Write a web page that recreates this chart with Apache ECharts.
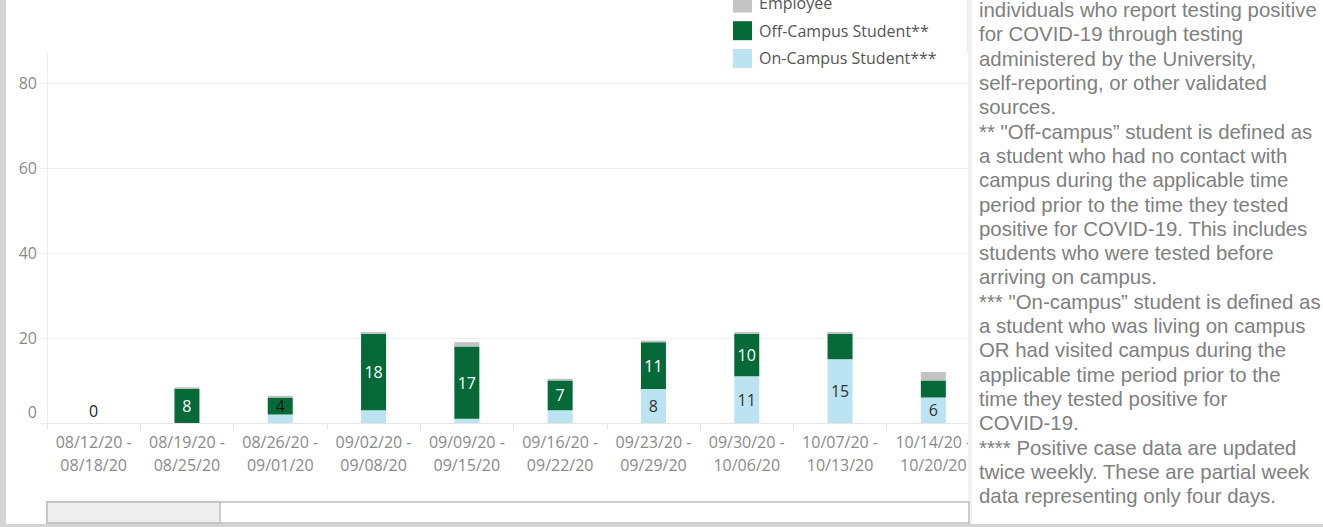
<!DOCTYPE html>
<html>
<head>
<meta charset="utf-8">
<script src="https://cdn.jsdelivr.net/npm/echarts@6/dist/echarts.min.js"></script>
<style>
html,body{margin:0;padding:0;background:#fff;}
#c{width:1323px;height:527px;}
</style>
</head>
<body>
<div id="c"></div>
<script>
// ---- data ----
const categories = [
  '08/12/20 -\n08/18/20', '08/19/20 -\n08/25/20', '08/26/20 -\n09/01/20',
  '09/02/20 -\n09/08/20', '09/09/20 -\n09/15/20', '09/16/20 -\n09/22/20',
  '09/23/20 -\n09/29/20', '09/30/20 -\n10/06/20', '10/07/20 -\n10/13/20',
  '10/14/20 -\n10/20/20'
];
const onCampus  = [0, 0, 2, 3, 1, 3, 8, 11, 15, 6];
const offCampus = [0, 8, 4, 18, 17, 7, 11, 10, 6, 4];
const employee  = [0, 0.4, 0.4, 0.4, 1, 0.4, 0.4, 0.4, 0.4, 2];
const onCampusLabelShown  = [true, false, false, false, false, false, true, true, true, true];
const offCampusLabelShown = [false, true, true, true, true, true, true, true, false, false];
const yTickValues = [0, 20, 40, 60, 80];
const seriesNames = ['Employee', 'Off-Campus Student**', 'On-Campus Student***'];
const footnoteLines = [
  'individuals who report testing positive',
  'for COVID-19 through testing',
  'administered by the University,',
  'self-reporting, or other validated',
  'sources.',
  '** "Off-campus\u201d student is defined as',
  'a student who had no contact with',
  'campus during the applicable time',
  'period prior to the time they tested',
  'positive for COVID-19. This includes',
  'students who were tested before',
  'arriving on campus.',
  '*** "On-campus\u201d student is defined as',
  'a student who was living on campus',
  'OR had visited campus during the',
  'applicable time period prior to the',
  'time they tested positive for',
  'COVID-19.',
  '**** Positive case data are updated',
  'twice weekly. These are partial week',
  'data representing only four days.'
];

// ---- styles ----
const FONT = '"Open Sans", "Noto Sans", sans-serif';
const GREEN = '#066a38';
const BLUE = '#bbe3f1';
const GREY = '#c3c3c3';
const AXIS_TXT = '#8a8a8a';
const GRID_C = '#efefef';

const onData = onCampus.map((v, i) => ({
  value: v,
  label: {
    show: onCampusLabelShown[i],
    position: v === 0 ? 'top' : 'inside',
    distance: 4,
    color: v === 0 ? '#222' : '#333'
  }
}));
const offData = offCampus.map((v, i) => ({
  value: v,
  label: {
    show: offCampusLabelShown[i],
    color: v === 4 ? '#1a1a1a' : '#ffffff'
  }
}));

const chart = echarts.init(document.getElementById('c'), null, {renderer: 'svg'});
chart.setOption({
  animation: false,
  backgroundColor: '#ffffff',
  textStyle: {fontFamily: FONT},
  grid: {left: 47, top: 53, width: 933, bottom: 104, containLabel: false},
  legend: {
    orient: 'vertical',
    left: 733,
    top: -6.5,
    padding: 0,
    itemWidth: 19,
    itemHeight: 19,
    itemGap: 8.7,
    icon: 'rect',
    selectedMode: false,
    data: seriesNames,
    textStyle: {fontFamily: FONT, fontSize: 16, color: '#555555', padding: [0, 0, 0, 2]}
  },
  xAxis: {
    type: 'category',
    data: categories,
    axisLine: {show: true, lineStyle: {color: '#e6e6e6', width: 1}},
    axisTick: {show: true, length: 7, lineStyle: {color: '#e6e6e6'}},
    axisLabel: {
      fontFamily: FONT, fontSize: 16, color: AXIS_TXT, lineHeight: 23,
      margin: 7, interval: 0
    },
    splitLine: {show: false}
  },
  yAxis: {
    type: 'value',
    min: 0, max: 87, interval: 20,
    axisLine: {show: true, lineStyle: {color: '#ececec', width: 1}},
    axisTick: {show: true, length: 7, lineStyle: {color: GRID_C}},
    axisLabel: {
      fontFamily: FONT, fontSize: 16, color: AXIS_TXT, margin: 10,
      showMaxLabel: false,
      formatter: v => yTickValues.indexOf(v) < 0 ? '' : (v === 0 ? '{z|0}' : String(v)),
      rich: {z: {fontFamily: FONT, fontSize: 16, color: AXIS_TXT, padding: [0, 0, 22, 0]}}
    },
    splitLine: {show: true, showMaxLine: false, lineStyle: {color: GRID_C, width: 1}}
  },
  series: [
    {
      name: seriesNames[2], type: 'bar', stack: 'total', barWidth: 25,
      itemStyle: {color: BLUE},
      label: {show: false, fontFamily: FONT, fontSize: 16, color: '#333'},
      data: onData
    },
    {
      name: seriesNames[1], type: 'bar', stack: 'total', barWidth: 25,
      itemStyle: {color: GREEN},
      label: {show: false, position: 'inside', fontFamily: FONT, fontSize: 16, color: '#fff'},
      data: offData
    },
    {
      name: seriesNames[0], type: 'bar', stack: 'total', barWidth: 25,
      itemStyle: {color: GREY},
      label: {show: false},
      data: employee
    }
  ],
  graphic: {
    elements: [
      // left frame strip
      {type: 'rect', z: 100, shape: {x: 0, y: 0, width: 6, height: 527}, style: {fill: '#d4d4d4'}},
      // right notes panel
      {type: 'rect', z: 100, shape: {x: 968, y: 0, width: 355, height: 527}, style: {fill: '#f1f1f1'}},
      {type: 'rect', z: 101, shape: {x: 972, y: 0, width: 351, height: 524}, style: {fill: '#ffffff'}},
      {type: 'line', z: 101, shape: {x1: 967.5, y1: 0, x2: 967.5, y2: 53}, style: {stroke: '#ececec', lineWidth: 1}},
      {
        type: 'text', z: 102, left: 979, top: -2,
        style: {
          text: footnoteLines.join('\n'),
          font: '20.4px "Liberation Sans", Arial, sans-serif',
          fill: '#808080',
          lineHeight: 24.3
        }
      },
      // scrollbar
      {type: 'rect', z: 100, shape: {x: 47, y: 502, width: 922, height: 21}, style: {fill: '#ffffff', stroke: '#bdbdbd', lineWidth: 1.5}},
      {type: 'rect', z: 101, shape: {x: 47, y: 502, width: 173, height: 21}, style: {fill: '#efefef', stroke: '#bdbdbd', lineWidth: 1.5}},
      // bottom frame strip
      {type: 'rect', z: 103, shape: {x: 0, y: 524, width: 1323, height: 3}, style: {fill: '#d4d4d4'}}
    ]
  }
});
</script>
</body>
</html>
